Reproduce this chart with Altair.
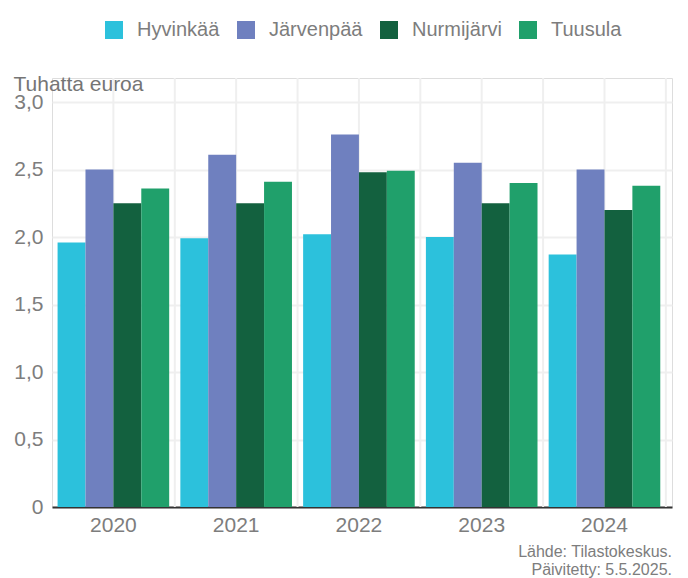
import altair as alt
import pandas as pd

years = ["2020", "2021", "2022", "2023", "2024"]
municipalities = ["Hyvinkää", "Järvenpää", "Nurmijärvi", "Tuusula"]
hyvinkaa = [1.96, 1.99, 2.02, 2.00, 1.87]
jarvenpaa = [2.50, 2.61, 2.76, 2.55, 2.50]
nurmijarvi = [2.25, 2.25, 2.48, 2.25, 2.20]
tuusula = [2.36, 2.41, 2.49, 2.40, 2.38]
colors = ["#2cc1dc", "#6f80bf", "#13613f", "#20a06b"]
y_ticks = [0, 0.5, 1.0, 1.5, 2.0, 2.5, 3.0]
y_title = "Tuhatta euroa"
footer = ["Lähde: Tilastokeskus.", "Päivitetty: 5.5.2025."]

rows = []
for m, vals in zip(municipalities, [hyvinkaa, jarvenpaa, nurmijarvi, tuusula]):
    for yr, v in zip(years, vals):
        rows.append({"Vuosi": yr, "Kunta": m, "Arvo": v})
df = pd.DataFrame(rows)
years_df = pd.DataFrame({"Vuosi": years})

W, H = 620, 429
GRID = "#efefef"
LABEL = "#7d7d7d"
FONT = "Liberation Sans"

xscale = alt.Scale(domain=years, paddingInner=0, paddingOuter=0.025, align=0)
yscale = alt.Scale(domain=[0, 3.178], nice=False)

xaxis = alt.Axis(
    title=None, labelAngle=0, labelFontSize=21, labelFont=FONT,
    labelColor=LABEL, labelPadding=7, ticks=False, grid=False,
    domainColor="#333333", domainWidth=2,
)

rule_center = alt.Chart(years_df).mark_rule(color=GRID, strokeWidth=2).encode(
    x=alt.X("Vuosi:N", scale=xscale, axis=xaxis, bandPosition=0.5),
    y=alt.value(0), y2=alt.value(H),
)
rule_edge = alt.Chart(years_df).mark_rule(color=GRID, strokeWidth=2).encode(
    x=alt.X("Vuosi:N", scale=xscale, axis=xaxis, bandPosition=1),
    y=alt.value(0), y2=alt.value(H),
)

bars = alt.Chart(df).mark_bar().encode(
    x=alt.X("Vuosi:N", scale=xscale, axis=xaxis),
    xOffset=alt.XOffset("Kunta:N", scale=alt.Scale(domain=municipalities, paddingInner=0, paddingOuter=0.2)),
    y=alt.Y("Arvo:Q", scale=yscale, axis=alt.Axis(
        title=y_title, values=y_ticks,
        labelExpr="datum.value == 0 ? '0' : replace(format(datum.value, '.1f'), '.', ',')",
        labelFontSize=21, labelFont=FONT, labelColor=LABEL, labelPadding=9,
        ticks=False, domain=False, grid=True, gridColor=GRID, gridWidth=2,
        titleAngle=0, titleAlign="left", titleBaseline="alphabetic",
        titleX=-39, titleY=12, titleFont=FONT, titleFontSize=21,
        titleFontWeight="normal", titleColor="#757575",
    )),
    color=alt.Color("Kunta:N", scale=alt.Scale(domain=municipalities, range=colors),
                    legend=alt.Legend(
                        title=None, orient="none", legendX=52, legendY=-58,
                        direction="horizontal", symbolType="square", symbolSize=324,
                        symbolStrokeWidth=0, labelFontSize=20, labelFont=FONT,
                        labelColor=LABEL, labelOffset=13, columnPadding=16, padding=0,
                    )),
)

chart = alt.layer(rule_center, rule_edge, bars).properties(
    width=W, height=H,
    autosize=alt.AutoSizeParams(type="none"),
    padding={"left": 44, "top": 70, "right": 8, "bottom": 71},
    title=alt.TitleParams(
        footer, orient="bottom", anchor="end", fontSize=16, font=FONT,
        fontWeight="normal", color=LABEL, lineHeight=18, offset=9,
    ),
).configure_view(stroke=None).configure(background="white")

chart.save("out.html", embed_options={"renderer": "svg", "actions": False})
